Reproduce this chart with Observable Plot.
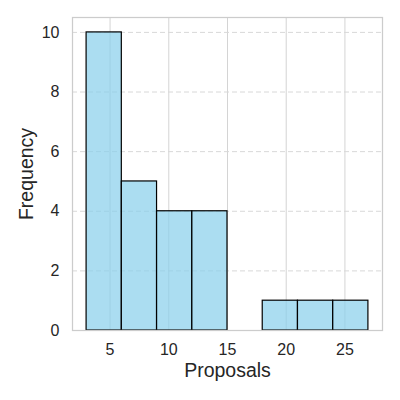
<!DOCTYPE html>
<html>
<head>
<meta charset="utf-8">
<script src="https://cdn.jsdelivr.net/npm/d3@7"></script>
<script src="https://cdn.jsdelivr.net/npm/@observablehq/plot@0.6"></script>
<style>
  html, body { margin: 0; padding: 0; background: #fff; }
  #chart svg { display: block; }
  g[aria-label="x-axis label"] text, g[aria-label="y-axis label"] text { font-size: 19.5px; fill: #262626; }
  g[aria-label="x-axis tick label"] text, g[aria-label="y-axis tick label"] text { font-size: 16px; fill: #262626; }
</style>
</head>
<body>
<div id="chart"></div>
<script>
const binStart = [3, 6, 9, 12, 15, 18, 21, 24];
const binEnd = [6, 9, 12, 15, 18, 21, 24, 27];
const counts = [10, 5, 4, 4, 0, 1, 1, 1];
const xTicks = [5, 10, 15, 20, 25];
const yTicks = [0, 2, 4, 6, 8, 10];

const bins = binStart.map((s, i) => ({x1: s, x2: binEnd[i], count: counts[i]})).filter(d => d.count > 0);

const chart = Plot.plot({
  width: 400,
  height: 400,
  marginLeft: 72,
  marginRight: 18,
  marginTop: 17,
  marginBottom: 70,
  style: {fontFamily: "'Liberation Sans', Arial, sans-serif", background: "#fff"},
  x: {domain: [1.8, 28.2]},
  y: {domain: [0, 10.5]},
  marks: [
    Plot.gridX(xTicks, {stroke: "#d4d4d4", strokeOpacity: 1, strokeWidth: 1}),
    Plot.gridY(yTicks.filter(d => d > 0), {stroke: "#d8d8d8", strokeOpacity: 1, strokeWidth: 1, strokeDasharray: "5,3"}),
    Plot.rectY(bins, {x1: "x1", x2: "x2", y: "count", fill: "skyblue", fillOpacity: 0.7, stroke: "black", strokeWidth: 1.2}),
    Plot.frame({stroke: "#cccccc", strokeWidth: 1.25}),
    Plot.axisX(xTicks, {tickSize: 0, tickPadding: 13, fontSize: 16, color: "#262626", label: "Proposals", labelAnchor: "center", labelArrow: "none", labelOffset: 46}),
    Plot.axisY(yTicks, {tickSize: 0, tickPadding: 13, fontSize: 16, color: "#262626", label: "Frequency", labelAnchor: "center", labelArrow: "none", labelOffset: 53})
  ]
});
document.getElementById("chart").appendChild(chart);
</script>
</body>
</html>
